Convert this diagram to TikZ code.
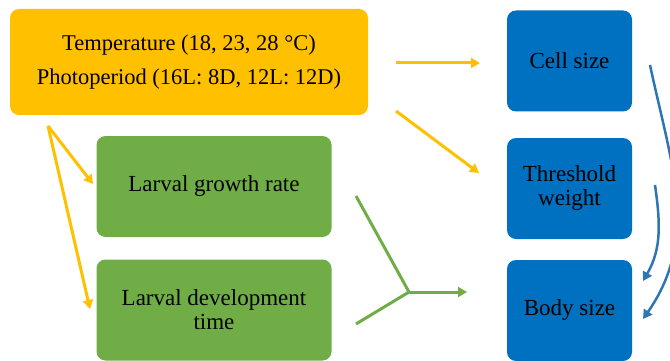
\documentclass[tikz,border=0pt]{standalone}
\usepackage{fontspec}
\setmainfont{Liberation Serif}
\usetikzlibrary{arrows.meta}

\definecolor{envorange}{HTML}{FFC000}
\definecolor{larvagreen}{HTML}{70AD47}
\definecolor{sizeblue}{HTML}{0070C0}
\definecolor{linkblue}{HTML}{2E75B6}

\tikzset{
  box/.style={rounded corners=9pt, align=center, inner sep=0pt,
    font=\fontsize{23}{24}\selectfont},
  envbox/.style={box, fill=envorange, minimum width=358pt, minimum height=106pt,
    font=\fontsize{22.5}{34}\selectfont},
  larvabox/.style={box, fill=larvagreen, minimum width=235pt, minimum height=101pt},
  sizebox/.style={box, fill=sizeblue, minimum width=125pt, minimum height=101pt},
  tip/.style={-{Triangle[length=9pt, width=10pt]}},
  envarrow/.style={tip, envorange, line width=3pt},
  larvaline/.style={larvagreen, line width=3pt},
  sizearrow/.style={tip, linkblue, line width=2.5pt},
}

\begin{document}
\begin{tikzpicture}[x=1pt, y=-1pt]
                    \useasboundingbox (0,0) rectangle (670,361);

                    \node[envbox] (env) at (189,62) {Temperature (18, 23, 28 °C)\\Photoperiod (16L: 8D, 12L: 12D)};

                    \node[larvabox] (growth) at (214,186.5) {Larval growth rate};
                    \node[larvabox] (devtime) at (214,310) {Larval development\\time};

                    \node[sizebox] (cell) at (569.5,61) {Cell size};
                    \node[sizebox] (thresh) at (569.5,188.5) {Threshold\\weight};
                    \node[sizebox] (body) at (569.5,310.5) {Body size};

                    % environment arrows
                    \coordinate (e1) at (396,63);
                    \coordinate (e1end) at (480,63);
                    \coordinate (e2) at (396,111);
                    \coordinate (e2end) at (479,173);
                    \coordinate (e3) at (48,126);
                    \coordinate (e3end) at (93,184);
                    \coordinate (e4end) at (90,309);
                    \draw[envarrow] (e1) -- (e1end);
                    \draw[envarrow] (e2) -- (e2end);
                    \draw[envarrow] (e3) -- (e3end);
                    \draw[envarrow] (e3) -- (e4end);

                    % larval traits join
                    \coordinate (g1) at (356,196);
                    \coordinate (g2) at (356,324);
                    \coordinate (join) at (409,292);
                    \coordinate (joinend) at (467,292);
                    \draw[larvaline, line join=miter] (g1) -- (join) -- (g2);
                    \draw[envarrow, larvagreen] (join) -- (joinend);

                    % size links
                    \coordinate (c1) at (650,65);
                    \coordinate (c1end) at (643,319);
                    \coordinate (t1) at (655,185);
                    \coordinate (t1end) at (643,281);
                    \draw[sizearrow] (c1) to[out=-78, in=55] (c1end);
                    \draw[sizearrow] (t1) to[out=-82, in=60] (t1end);

                \end{tikzpicture}
\end{document}
